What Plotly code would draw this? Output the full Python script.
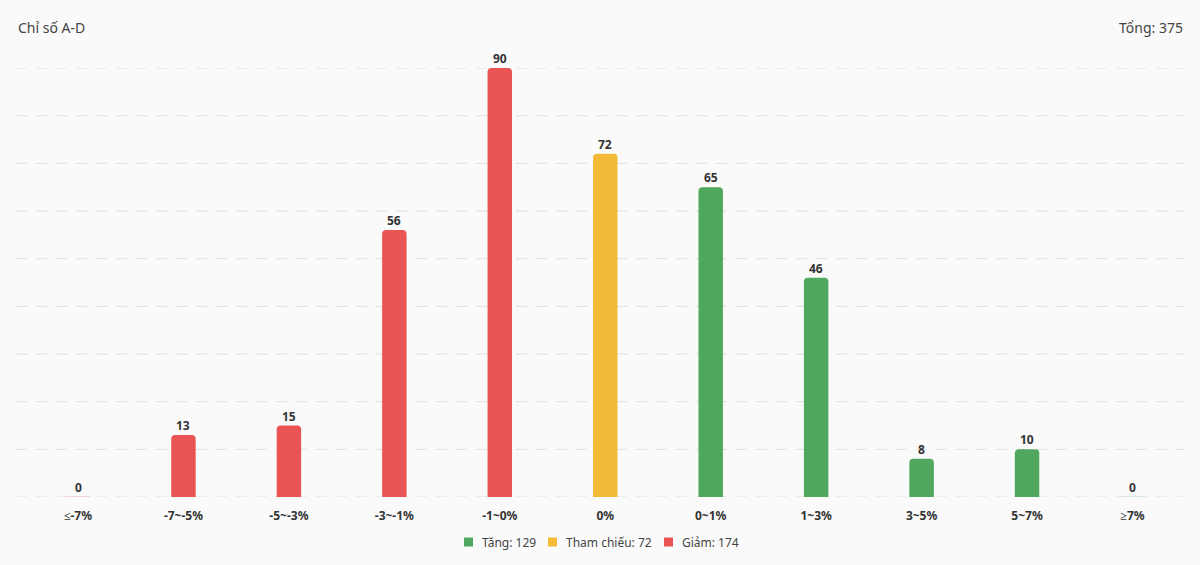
import plotly.graph_objects as go

categories = ["≤-7%", "-7~-5%", "-5~-3%", "-3~-1%", "-1~0%", "0%", "0~1%", "1~3%", "3~5%", "5~7%", "≥7%"]
giam_cats = ["≤-7%", "-7~-5%", "-5~-3%", "-3~-1%", "-1~0%"]
giam_vals = [0, 13, 15, 56, 90]
tc_cats = ["0%"]
tc_vals = [72]
tang_cats = ["0~1%", "1~3%", "3~5%", "5~7%", "≥7%"]
tang_vals = [65, 46, 8, 10, 0]
total = 375
y_ticks = list(range(0, 91, 10))

RED = "#EB5454"
YELLOW = "#F2BA36"
GREEN = "#4FA85E"
FONT = "Noto Sans"

W, H = 1200, 565
L, R, T, B = 16, 15, 68, 68
PW, PH = W - L - R, H - T - B

def px_x(x):
    return (x - L) / PW

def px_y(y):
    return (H - B - y) / PH

def trace(name, xs, ys, color, zero_line):
    return go.Bar(
        x=xs, y=ys, name=name,
        marker=dict(color=color,
                    line=dict(color=[zero_line if v == 0 else color for v in ys],
                              width=[1.5 if v == 0 else 0 for v in ys]),
                    cornerradius=4),
        width=0.232,
        cliponaxis=False, hoverinfo="skip", showlegend=False,
    )

fig = go.Figure()
series = [
    (f"Tăng: {sum(tang_vals)}", tang_cats, tang_vals, GREEN, "#cfe6d3"),
    (f"Tham chiếu: {sum(tc_vals)}", tc_cats, tc_vals, YELLOW, "#f7e3b5"),
    (f"Giảm: {sum(giam_vals)}", giam_cats, giam_vals, RED, "#f3c6c6"),
]
for s in series:
    fig.add_trace(trace(*s))

shapes = []
for v in y_ticks:
    shapes.append(dict(type="line", xref="paper", yref="y", x0=0, x1=1, y0=v, y1=v,
                       line=dict(color="#DEDEDE", width=1, dash="11px,9px"), layer="below"))

annotations = [
    dict(text="Chỉ số A-D", x=px_x(16), y=px_y(27), xref="paper", yref="paper", showarrow=False,
         xanchor="left", yanchor="middle", font=dict(family=FONT, size=14, color="#444444")),
    dict(text=f"Tổng: {total}", x=px_x(1185), y=px_y(27), xref="paper", yref="paper", showarrow=False,
         xanchor="right", yanchor="middle", font=dict(family=FONT, size=14, color="#444444")),
]

# value labels above bars
for _, xs, ys, _, _ in series:
    for xv, yv in zip(xs, ys):
        annotations.append(dict(text=str(yv), x=xv, y=yv, xref="x", yref="y", showarrow=False,
                                xanchor="center", yanchor="bottom", yshift=-1,
                                font=dict(family=FONT, size=12, color="#333333", weight="bold")))

# manual legend
legend_y = 542
legend_items = [(series[0][0], GREEN, 464), (series[1][0], YELLOW, 548), (series[2][0], RED, 664)]
for text, color, sx in legend_items:
    shapes.append(dict(type="rect", xref="paper", yref="paper",
                       x0=px_x(sx), x1=px_x(sx + 9), y0=px_y(legend_y + 4.5), y1=px_y(legend_y - 4.5),
                       fillcolor=color, line=dict(width=0), layer="above"))
    annotations.append(dict(text=text, x=px_x(sx + 16), y=px_y(legend_y), xref="paper", yref="paper",
                            showarrow=False, xanchor="left", yanchor="middle",
                            font=dict(family=FONT, size=12, color="#444444")))

band = 105.45
r0 = -(78 - L) / band
r1 = r0 + PW / band

fig.update_layout(
    width=W, height=H,
    margin=dict(l=L, r=R, t=T, b=B),
    paper_bgcolor="#FAFAFA", plot_bgcolor="#FAFAFA",
    barmode="overlay",
    font=dict(family=FONT, color="#444444"),
    showlegend=False,
    xaxis=dict(categoryorder="array", categoryarray=categories, type="category",
               range=[r0, r1],
               showgrid=False, zeroline=False, showline=False, ticks="",
               tickfont=dict(family=FONT, size=12, color="#333333", weight="bold"),
               ticklabelstandoff=10),
    yaxis=dict(range=[0, 90], dtick=10, showticklabels=False, showgrid=False,
               zeroline=False, showline=False, ticks=""),
    shapes=shapes,
    annotations=annotations,
)

fig.write_html("out.html")
